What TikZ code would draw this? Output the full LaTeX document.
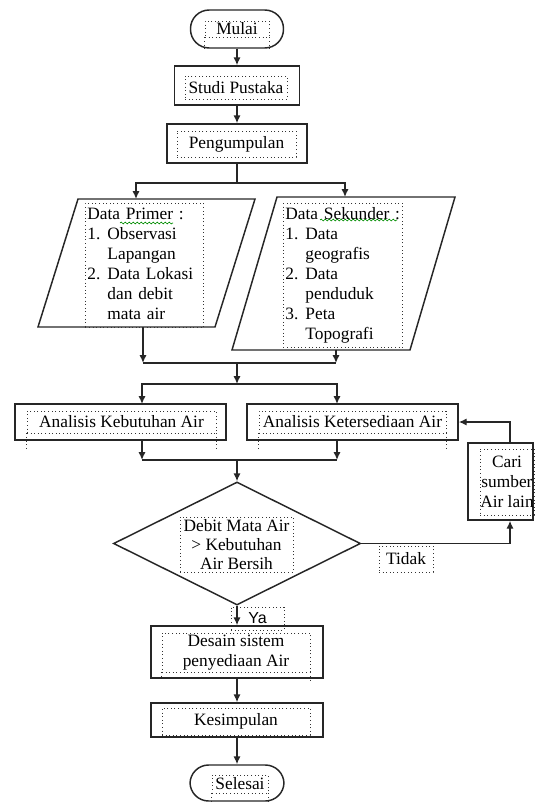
\documentclass[tikz,border=0pt]{standalone}
\usepackage{fontspec}
\setmainfont{Liberation Serif}
\newfontfamily\arialfont{Liberation Sans}
\usetikzlibrary{arrows.meta,shapes.geometric,decorations.pathmorphing}
\newcommand\pxu[1]{#1*0.75pt}
\begin{document}
\begin{tikzpicture}[x=0.75pt,y=-0.75pt,
  font=\fontsize{13}{15}\selectfont,
  shapebox/.style={draw=black!85, line width=1.1pt, inner sep=0pt},
  tframe/.style={draw=black!80, dotted, line width=0.7pt, inner sep=0pt},
  dotline/.style={draw=black!80, dotted, line width=0.7pt},
  tlabel/.style={inner sep=0pt, align=center},
  arr/.style={draw=black!85, line width=1.1pt, -{Latex[length=6pt,width=5.5pt]}},
  ln/.style={draw=black!85, line width=1.1pt},
  wavy/.style={draw=green!55!black, line width=0.5pt, decorate, decoration={snake, amplitude=0.7pt, segment length=3pt}}
]
\useasboundingbox (0,0) rectangle (536,803);

% Mulai
\node[shapebox, rounded corners=14pt, minimum width=\pxu{93}, minimum height=\pxu{38}] (mulai) at (237,29) {};
\node[tframe, minimum width=\pxu{64}, minimum height=\pxu{16}] (tmulai) at (237,29) {Mulai};
\draw[dotline] (tmulai.south west) -- ++(0,11);
\draw[dotline] (tmulai.south east) -- ++(0,11);

% Studi Pustaka
\node[shapebox, minimum width=\pxu{125}, minimum height=\pxu{39}] (studi) at (237,85.5) {};
\node[tframe, minimum width=\pxu{102}, minimum height=\pxu{23}] (tstudi) at (236,87.5) {Studi Pustaka};

% Pengumpulan
\node[shapebox, minimum width=\pxu{140}, minimum height=\pxu{39}] (peng) at (237,143.5) {};
\node[tframe, minimum width=\pxu{119}, minimum height=\pxu{26}] (tpeng) at (236.5,144) {Pengumpulan};

\draw[arr] (mulai.south) -- (studi.north);
\draw[arr] (studi.south) -- (peng.north);

% split to data
\coordinate (s1) at (237,183);
\coordinate (dptop) at (136,199);
\coordinate (dstop) at (345,197);
\draw[ln] (peng.south) -- (s1);
\draw[arr] (s1) -| (dptop);
\draw[arr] (s1) -| (dstop);

% Parallelograms
\draw[shapebox] (78,199) -- (255,199) -- (215,327) -- (38,327) -- cycle;
\draw[shapebox] (277,197) -- (455,197) -- (410,350) -- (232,350) -- cycle;

\node[tframe, anchor=north west, minimum width=\pxu{118}, minimum height=\pxu{118},
      text width=\pxu{114}, align=left, inner sep=\pxu{2}] (tprimer) at (85,203)
{\begin{tabular}{@{}p{15pt}@{}l@{}}
\multicolumn{2}{@{}l@{}}{Data Primer :}\\
1. & Observasi\\
   & Lapangan\\
2. & Data Lokasi\\
   & dan debit\\
   & mata air
\end{tabular}};
\draw[wavy] (120,223) -- (173,223);

\node[tframe, anchor=north west, minimum width=\pxu{119}, minimum height=\pxu{140},
      text width=\pxu{115}, align=left, inner sep=\pxu{2}] (tsekunder) at (283,203)
{\begin{tabular}{@{}p{15pt}@{}l@{}}
\multicolumn{2}{@{}l@{}}{Data Sekunder :}\\
1. & Data\\
   & geografis\\
2. & Data\\
   & penduduk\\
3. & Peta\\
   & Topografi
\end{tabular}};
\draw[wavy] (320,220) -- (397,220);

% join
\coordinate (dpbot) at (143,327);
\coordinate (dsbot) at (336,350);
\coordinate (j1) at (237,363);
\coordinate (j2) at (237,384);
\draw[arr] (dpbot) -- (dpbot |- j1);
\draw[arr] (dsbot) -- (dsbot |- j1);
\draw[ln] (dpbot |- j1) -- (dsbot |- j1);
\draw[arr] (j1) -- (j2);

% Analisis boxes
\node[shapebox, minimum width=\pxu{211}, minimum height=\pxu{36}] (keb) at (120.5,422) {};
\node[tframe, minimum width=\pxu{189}, minimum height=\pxu{22}] (tkeb) at (121.5,422) {Analisis Kebutuhan Air};
\draw[dotline] (tkeb.south west) -- ++(0,15);
\draw[dotline] (tkeb.south east) -- ++(0,15);

\node[shapebox, minimum width=\pxu{211}, minimum height=\pxu{36}] (ket) at (352.5,422) {};
\node[tframe, minimum width=\pxu{187}, minimum height=\pxu{22}] (tket) at (352.5,422) {Analisis Ketersediaan Air};
\draw[dotline] (tket.south west) -- ++(0,15);
\draw[dotline] (tket.south east) -- ++(0,15);

\coordinate (kx) at (142,404);
\coordinate (sx) at (337,404);
\draw[arr] (j2) -| (kx);
\draw[arr] (j2) -| (sx);

\coordinate (kb) at (142,440);
\coordinate (sb) at (337,440);
\coordinate (j3) at (237,460);
\draw[arr] (kb) -- (kb |- j3);
\draw[arr] (sb) -- (sb |- j3);
\draw[ln] (kb |- j3) -- (sb |- j3);

% Decision
\node[shapebox, diamond, minimum width=\pxu{247}, minimum height=\pxu{123}] (dia) at (237,543.5) {};
\node[tframe, minimum width=\pxu{113}, minimum height=\pxu{55}, align=center,
      font=\fontsize{13}{14}\selectfont] (tdia) at (236.5,544.5)
  {Debit Mata Air\\> Kebutuhan\\Air Bersih};
\draw[arr] (j3) -- (dia.north);

% Cari sumber air lain
\node[shapebox, minimum width=\pxu{65}, minimum height=\pxu{77}] (cari) at (500.5,481.5) {};
\node[tframe, minimum width=\pxu{54}, minimum height=\pxu{66}, align=center] (tcari) at (507,482)
  {Cari\\sumber\\Air lain};
\coordinate (cx) at (510,0);
\draw[arr] (dia.east) -| (cari.south -| cx);
\draw[arr] (cari.north -| cx) |- (ket.east);

\node[tframe, minimum width=\pxu{54}, minimum height=\pxu{26}] (tidak) at (406,559) {Tidak};

% Ya
\node[tframe, minimum width=\pxu{53}, minimum height=\pxu{23}, font=\arialfont\fontsize{12}{14}\selectfont] (ya) at (257.5,618.5) {Ya};

% Desain
\node[shapebox, minimum width=\pxu{172}, minimum height=\pxu{52}] (desain) at (237,652) {};
\node[tframe, minimum width=\pxu{148}, minimum height=\pxu{39}, align=center] (tdesain) at (236,652.5) {Desain sistem\\penyediaan Air};
\draw[dotline] (tdesain.south west) -- ++(0,6);
\draw[dotline] (tdesain.south east) -- ++(0,8);
\draw[arr] (dia.south) -- (desain.north);

% Kesimpulan
\node[shapebox, minimum width=\pxu{172}, minimum height=\pxu{34}] (kes) at (237,720) {};
\node[tframe, minimum width=\pxu{148}, minimum height=\pxu{27}] (tkes) at (236,721.5) {Kesimpulan};
\draw[arr] (desain.south) -- (kes.north);

% Selesai
\node[shapebox, rounded corners=14pt, minimum width=\pxu{94}, minimum height=\pxu{36}] (selesai) at (237,783) {};
\node[tframe, minimum width=\pxu{56}, minimum height=\pxu{18}] (tselesai) at (240,784) {Selesai};
\draw[dotline] (tselesai.south west) -- ++(0,12);
\draw[dotline] (tselesai.south east) -- ++(0,12);
\draw[arr] (kes.south) -- (selesai.north);
\end{tikzpicture}
\end{document}
